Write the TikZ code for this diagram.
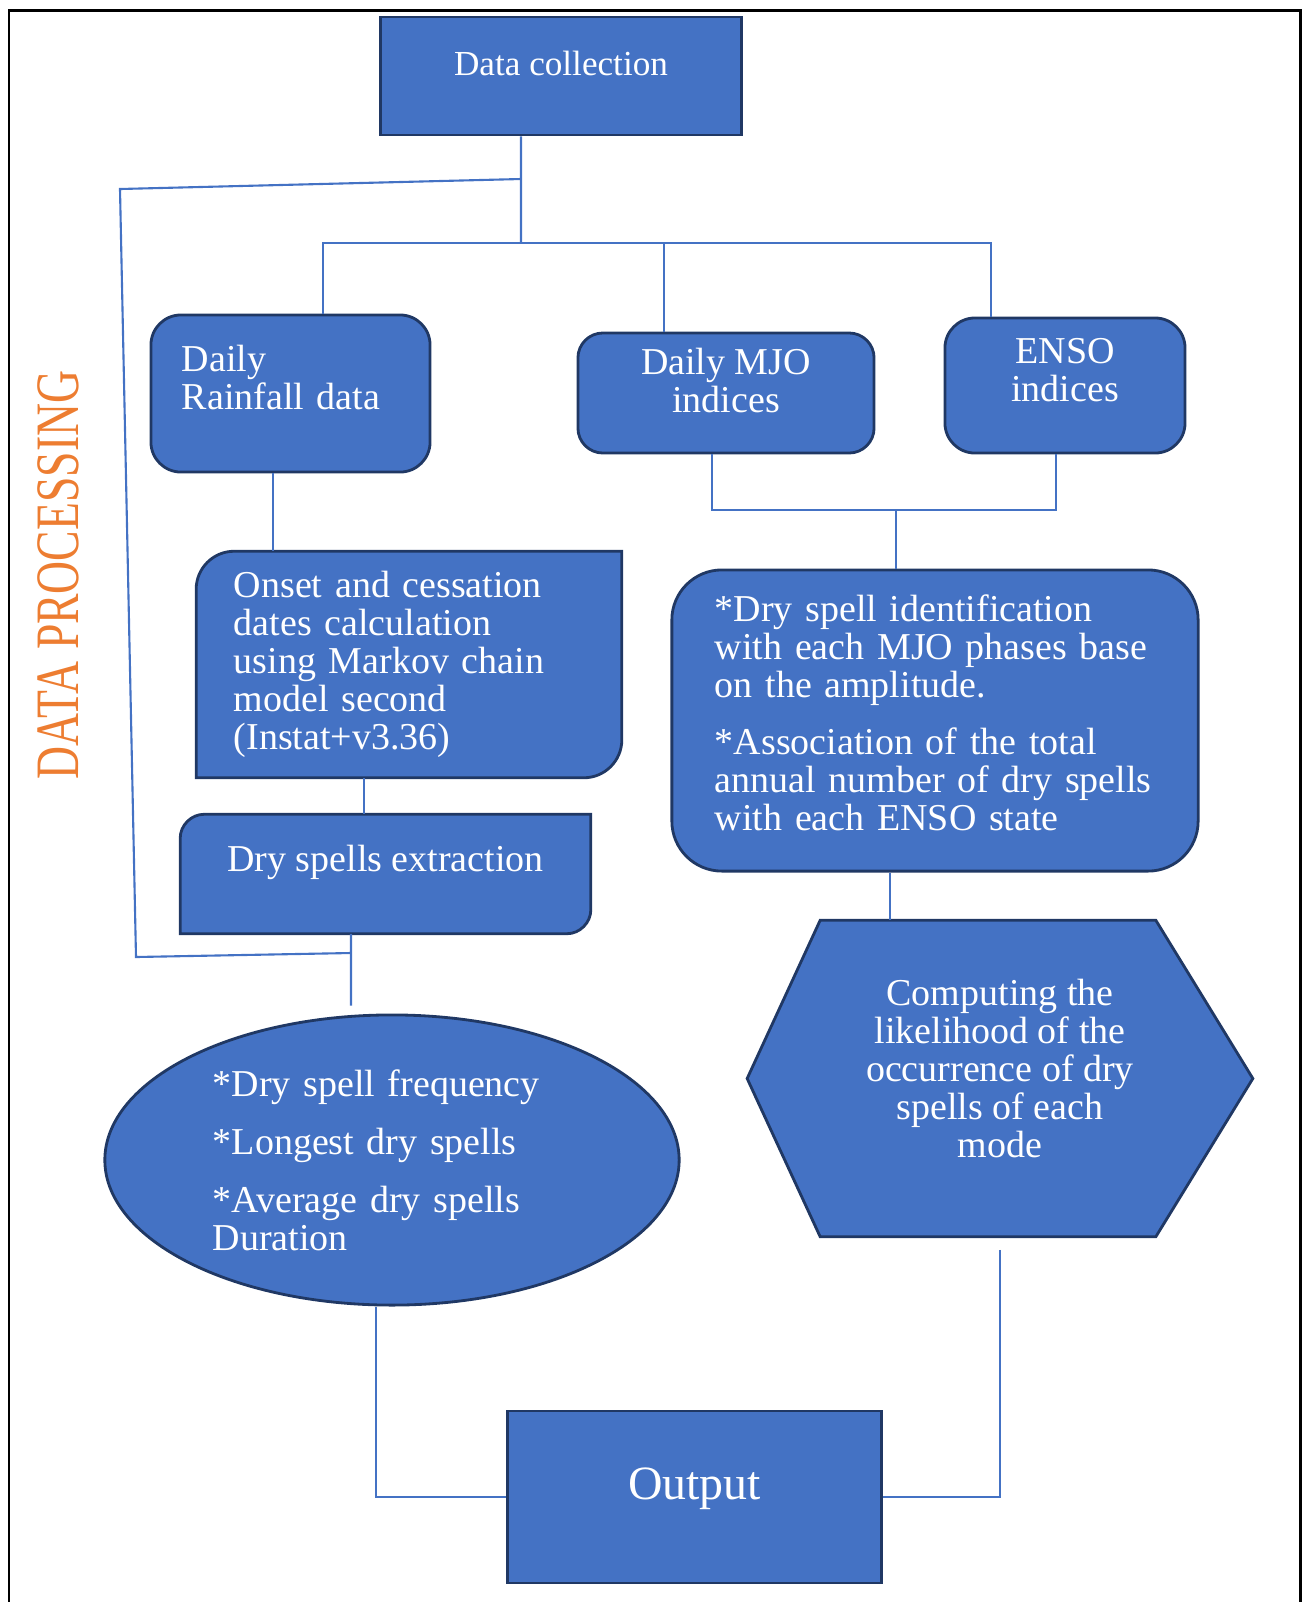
\documentclass[tikz,border=0pt]{standalone}
\usepackage{fontspec}
\setmainfont{Liberation Serif}
\definecolor{boxblue}{RGB}{68,114,196}
\definecolor{boxedge}{RGB}{32,56,100}
\definecolor{linkblue}{RGB}{68,114,196}
\definecolor{procorange}{RGB}{237,125,49}
\usetikzlibrary{positioning,backgrounds,shapes.geometric}

\begin{document}
\begin{tikzpicture}[x=0.01cm, y=-0.01cm,
  outline/.style={draw=boxedge, fill=boxblue, line width=0.8pt},
  bare/.style={inner sep=0pt, text=white, font=\fontsize{10.8}{10.8}\selectfont},
  blk/.style={outline, bare},
  rbox/.style={blk, rounded corners=#1},
  link/.style={draw=linkblue, line width=0.6pt},
  lift/.style={execute at end node={\rule[-#1]{0pt}{0pt}}}
]
  \useasboundingbox (0,0) rectangle (1302,1602);

  %% Outer frame (open at the bottom)
  \draw[line width=0.85pt] (9,1602) -- (9,10) -- (1300,10) -- (1300,1602);

  %% Side title
  \node[text=procorange, rotate=90, inner sep=0pt, font=\fontsize{13}{13}\selectfont] (proc) at (58,575)
    {\scalebox{1}[1.35]{DATA PROCESSING}};

  %% Top
  \node[blk, minimum width=3.6cm, minimum height=1.18cm, font=\fontsize{10}{10}\selectfont, lift=0.25cm] (collect) at (561,76) {Data collection};

  %% Data sources
  \node[rbox=0.3cm, minimum width=2.79cm, minimum height=1.57cm, text width=2.17cm, align=left, lift=0.32cm] (rain) at (290.5,393.5) {Daily\\Rainfall data};
  \node[rbox=0.25cm, minimum width=2.96cm, minimum height=1.2cm, align=center, lift=0.26cm] (mjo) at (726,393) {Daily MJO\\indices};
  \node[rbox=0.3cm, minimum width=2.4cm, minimum height=1.35cm, align=center, lift=0.32cm] (enso) at (1065,385.5) {ENSO\\indices};

  %% Left branch
  \node[bare, minimum width=4.24cm, minimum height=2.25cm, text width=3.5cm, align=left] (onset) at (409,664.5)
    {Onset and cessation\\dates calculation\\using Markov chain\\model second\\(Instat+v3.36)};
  \node[bare, minimum width=4.09cm, minimum height=1.18cm, lift=0.31cm] (dryext) at (385.5,874) {Dry spells extraction};
  \node[blk, ellipse, minimum width=5.74cm, minimum height=2.9cm, text width=3.58cm, align=left] (stats) at (392,1160)
    {*Dry spell frequency\\[0.2cm]*Longest dry spells\\[0.2cm]*Average dry spells\\Duration};

  %% Right branch
  \node[rbox=0.5cm, minimum width=5.26cm, minimum height=3.01cm, text width=4.4cm, align=left, lift=0.16cm] (assoc) at (935,720.5)
    {*Dry spell identification\\with each MJO phases base\\on the amplitude.\\[0.19cm]*Association of the total\\annual number of dry spells\\with each ENSO state};
  \node[bare, minimum width=3.34cm, minimum height=3.15cm, align=center, lift=0.2cm] (hexa) at (1000,1078.5)
    {Computing the\\likelihood of the\\occurrence of dry\\spells of each\\mode};

  %% Bottom
  \node[blk, minimum width=3.73cm, minimum height=1.72cm, font=\fontsize{13.6}{13.6}\selectfont, lift=0.27cm] (output) at (694.5,1497) {Output};

  %% Shapes with odd corners
  \begin{scope}[on background layer]
    \draw[outline] (onset.south west) -- ([yshift=-0.38cm]onset.north west)
      .. controls ([yshift=-0.17cm]onset.north west) and ([xshift=0.17cm]onset.north west) .. ([xshift=0.38cm]onset.north west)
      -- (onset.north east) -- ([yshift=0.38cm]onset.south east)
      .. controls ([yshift=0.17cm]onset.south east) and ([xshift=-0.17cm]onset.south east) .. ([xshift=-0.38cm]onset.south east) -- cycle;
    \draw[outline] (dryext.south west) -- ([yshift=-0.24cm]dryext.north west)
      .. controls ([yshift=-0.11cm]dryext.north west) and ([xshift=0.11cm]dryext.north west) .. ([xshift=0.24cm]dryext.north west)
      -- (dryext.north east) -- ([yshift=0.24cm]dryext.south east)
      .. controls ([yshift=0.11cm]dryext.south east) and ([xshift=-0.11cm]dryext.south east) .. ([xshift=-0.24cm]dryext.south east) -- cycle;
    \draw[outline] ([xshift=-0.12cm]hexa.north west) -- ([xshift=-0.12cm]hexa.north east) -- ([xshift=0.85cm]hexa.east)
      -- ([xshift=-0.12cm]hexa.south east) -- ([xshift=-0.12cm]hexa.south west) -- ([xshift=-0.85cm]hexa.west) -- cycle;
  \end{scope}

  %% Connectors
  \coordinate (split) at (521,243);
  \coordinate (loop) at (521,179);
  \coordinate (rejoin) at (351,953);
  \coordinate (merge) at (896,510);

  \draw[link] ([xshift=-0.4cm]collect.south) -- (split);
  \draw[link] ([xshift=0.325cm]rain.north) |- (split) -| ([xshift=-0.74cm]enso.north);
  \draw[link] ([xshift=-0.62cm]mjo.north) -- ([xshift=-0.62cm]mjo.north |- split);
  \draw[link] (loop) -- (120,189) -- (136,957) -- (rejoin);

  \draw[link] ([xshift=-0.175cm]rain.south) -- ([xshift=-0.175cm]rain.south |- onset.north);
  \draw[link] ([xshift=-0.45cm]onset.south) -- ([xshift=-0.45cm]onset.south |- dryext.north);
  \draw[link] ([xshift=-0.345cm]dryext.south) -- ([xshift=-0.41cm,yshift=0.08cm]stats.north);

  \draw[link] ([xshift=-0.14cm]mjo.south) |- (merge) -| ([xshift=-0.09cm]enso.south);
  \draw[link] (merge) -- (merge |- assoc.north);
  \draw[link] ([xshift=-0.45cm]assoc.south) -- ([xshift=-0.45cm]assoc.south |- hexa.north);

  \draw[link] ([xshift=-0.16cm]stats.south) |- (output.west);
  \draw[link] ([yshift=-0.13cm]hexa.south) |- (output.east);
\end{tikzpicture}
\end{document}
